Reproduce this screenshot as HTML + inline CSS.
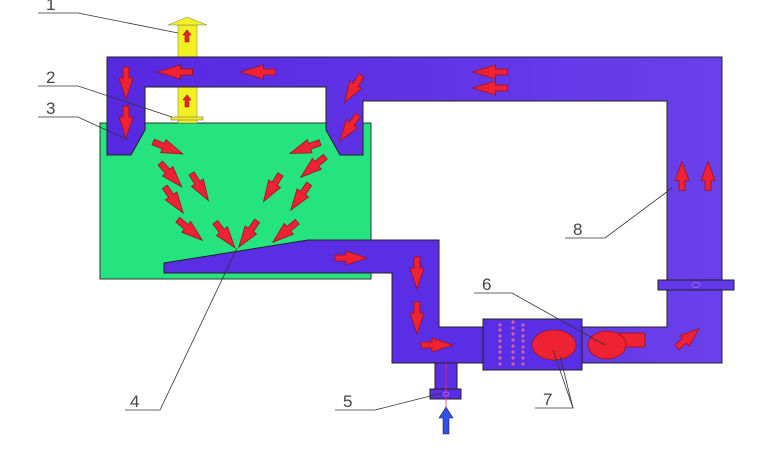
<!DOCTYPE html>
<html><head><meta charset="utf-8"><style>html,body{margin:0;padding:0;background:#fff}svg{display:block}</style></head>
<body>
<svg width="780" height="460" viewBox="0 0 780 460" xmlns="http://www.w3.org/2000/svg" font-family="Liberation Sans, sans-serif">
<defs>
<polygon id="a" points="-16,-3 -5,-3 -5,-7 16,0 -5,7 -5,3 -16,3" fill="#ee2233" stroke="#991122" stroke-width="0.8"/>
<polygon id="s" points="-6,-2 1,-2 1,-4 6,0 1,4 1,2 -6,2" fill="#ee2233" stroke="#991122" stroke-width="0.6"/>
<linearGradient id="pg" x1="0" x2="1" y1="0" y2="0"><stop offset="0" stop-color="#5628e0"/><stop offset="1" stop-color="#6a40ea"/></linearGradient>
</defs>
<rect x="100" y="123" width="271" height="156" fill="#25e37f" stroke="#333" stroke-width="1"/>
<rect x="178" y="25" width="19" height="33" fill="#f2f020" stroke="#777" stroke-width="0.5"/>
<polygon points="168,25 187,17 207,25" fill="#f2f020" stroke="#777" stroke-width="0.5"/>
<rect x="178" y="86" width="19" height="37" fill="#f2f020" stroke="#777" stroke-width="0.5"/>
<rect x="171" y="117" width="32" height="3" fill="#f2f020" stroke="#555" stroke-width="0.5"/>
<path d="M107,57 H722 V363 H582 V327 H667 V101 H363 V155 H340 L326,130 V87 H145 V130 L131,155 H107 Z" fill="url(#pg)" stroke="#222" stroke-width="1"/>
<path d="M164,263 L308,240 H439 V327 H483 V363 H392 V273 H164 Z" fill="#5a2ee4" stroke="#222" stroke-width="1"/>
<rect x="435" y="363" width="22" height="27" fill="#5a2ee4" stroke="#222" stroke-width="1"/>
<rect x="430" y="389" width="31" height="10" fill="#5a2ee4" stroke="#222" stroke-width="1"/>
<ellipse cx="446" cy="394" rx="3" ry="2" fill="none" stroke="#aa77ff" stroke-width="0.7"/>
<line x1="446" y1="363" x2="446" y2="412" stroke="#ee3355" stroke-width="0.8"/>
<polygon points="443,434 443,418 439,418 446,407 453,418 449,418 449,434" fill="#3050ee" stroke="#223" stroke-width="0.6"/>
<rect x="658" y="280" width="76" height="10" fill="#6238e8" stroke="#222" stroke-width="1"/>
<ellipse cx="696" cy="285" rx="4" ry="2.5" fill="none" stroke="#aa77ff" stroke-width="0.7"/>
<rect x="483" y="319" width="99" height="51" fill="#5a2ee4" stroke="#222" stroke-width="1"/>
<g fill="#cc66aa">
<circle cx="500" cy="325" r="1.6"/><circle cx="500" cy="330" r="1.6"/><circle cx="500" cy="336" r="1.6"/><circle cx="500" cy="341" r="1.6"/><circle cx="500" cy="347" r="1.6"/><circle cx="500" cy="352" r="1.6"/><circle cx="500" cy="358" r="1.6"/><circle cx="500" cy="364" r="1.6"/>
<circle cx="513" cy="322" r="1.6"/><circle cx="513" cy="328" r="1.6"/><circle cx="513" cy="334" r="1.6"/><circle cx="513" cy="340" r="1.6"/><circle cx="513" cy="346" r="1.6"/><circle cx="513" cy="352" r="1.6"/><circle cx="513" cy="358" r="1.6"/><circle cx="513" cy="364" r="1.6"/>
<circle cx="523" cy="325" r="1.6"/><circle cx="523" cy="330" r="1.6"/><circle cx="523" cy="336" r="1.6"/><circle cx="523" cy="341" r="1.6"/><circle cx="523" cy="347" r="1.6"/><circle cx="523" cy="352" r="1.6"/><circle cx="523" cy="358" r="1.6"/><circle cx="523" cy="364" r="1.6"/>
</g>
<ellipse cx="554" cy="345" rx="22" ry="15" fill="#ee2233" stroke="#991122" stroke-width="0.8"/>
<rect x="605" y="333" width="40" height="14" fill="#ee2233" stroke="#991122" stroke-width="0.8"/>
<ellipse cx="607" cy="345" rx="19" ry="14" fill="#ee2233" stroke="#991122" stroke-width="0.8"/>
<use href="#a" transform="translate(175,72) rotate(180) scale(1.1,1)"/>
<use href="#a" transform="translate(258,72) rotate(180) scale(1.1,1)"/>
<use href="#a" transform="translate(490,72) rotate(180) scale(1.1,1)"/>
<use href="#a" transform="translate(490,88) rotate(180) scale(1.1,1)"/>
<use href="#a" transform="translate(126,83) rotate(90)"/>
<use href="#a" transform="translate(126,122) rotate(90)"/>
<use href="#a" transform="translate(353,89) rotate(122)"/>
<use href="#a" transform="translate(349,128) rotate(125)"/>
<use href="#a" transform="translate(168,148) rotate(22)"/>
<use href="#a" transform="translate(171,175) rotate(48)"/>
<use href="#a" transform="translate(200,187) rotate(58)"/>
<use href="#a" transform="translate(174,200) rotate(55)"/>
<use href="#a" transform="translate(190,230) rotate(40)"/>
<use href="#a" transform="translate(225,235) rotate(52)"/>
<use href="#a" transform="translate(248,234) rotate(125)"/>
<use href="#a" transform="translate(285,232) rotate(140)"/>
<use href="#a" transform="translate(300,197) rotate(125)"/>
<use href="#a" transform="translate(272,188) rotate(122)"/>
<use href="#a" transform="translate(313,167) rotate(140)"/>
<use href="#a" transform="translate(305,148) rotate(160)"/>
<use href="#a" transform="translate(351,258)"/>
<use href="#a" transform="translate(417,273) rotate(90)"/>
<use href="#a" transform="translate(417,318) rotate(90)"/>
<use href="#a" transform="translate(437,345)"/>
<use href="#a" transform="translate(682,176) rotate(-90) scale(0.9,1)"/>
<use href="#a" transform="translate(708,176) rotate(-90) scale(0.9,1)"/>
<use href="#a" transform="translate(688,338) rotate(-40) scale(0.9,1)"/>
<use href="#s" transform="translate(187,36) rotate(-90)"/>
<use href="#s" transform="translate(187,101) rotate(-90)"/>
<g stroke="#333" stroke-width="0.8" fill="none">
<polyline points="38,13 78,13 178,33"/>
<polyline points="38,86 78,86 172,117"/>
<polyline points="38,117 78,117 128,140"/>
<polyline points="125,410 160,410 237,248"/>
<polyline points="335,410 375,410 442,393"/>
<polyline points="474,293 512,293 605,345"/>
<polyline points="535,408 573,408 553,350"/>
<line x1="573" y1="408" x2="560" y2="356"/>
<polyline points="565,238 605,238 672,188"/>
</g>
<g font-size="17" fill="#444">
<text x="46" y="10">1</text>
<text x="46" y="83">2</text>
<text x="46" y="114">3</text>
<text x="130" y="407">4</text>
<text x="343" y="407">5</text>
<text x="482" y="290">6</text>
<text x="543" y="405">7</text>
<text x="573" y="235">8</text>
</g>
</svg>
</body></html>
